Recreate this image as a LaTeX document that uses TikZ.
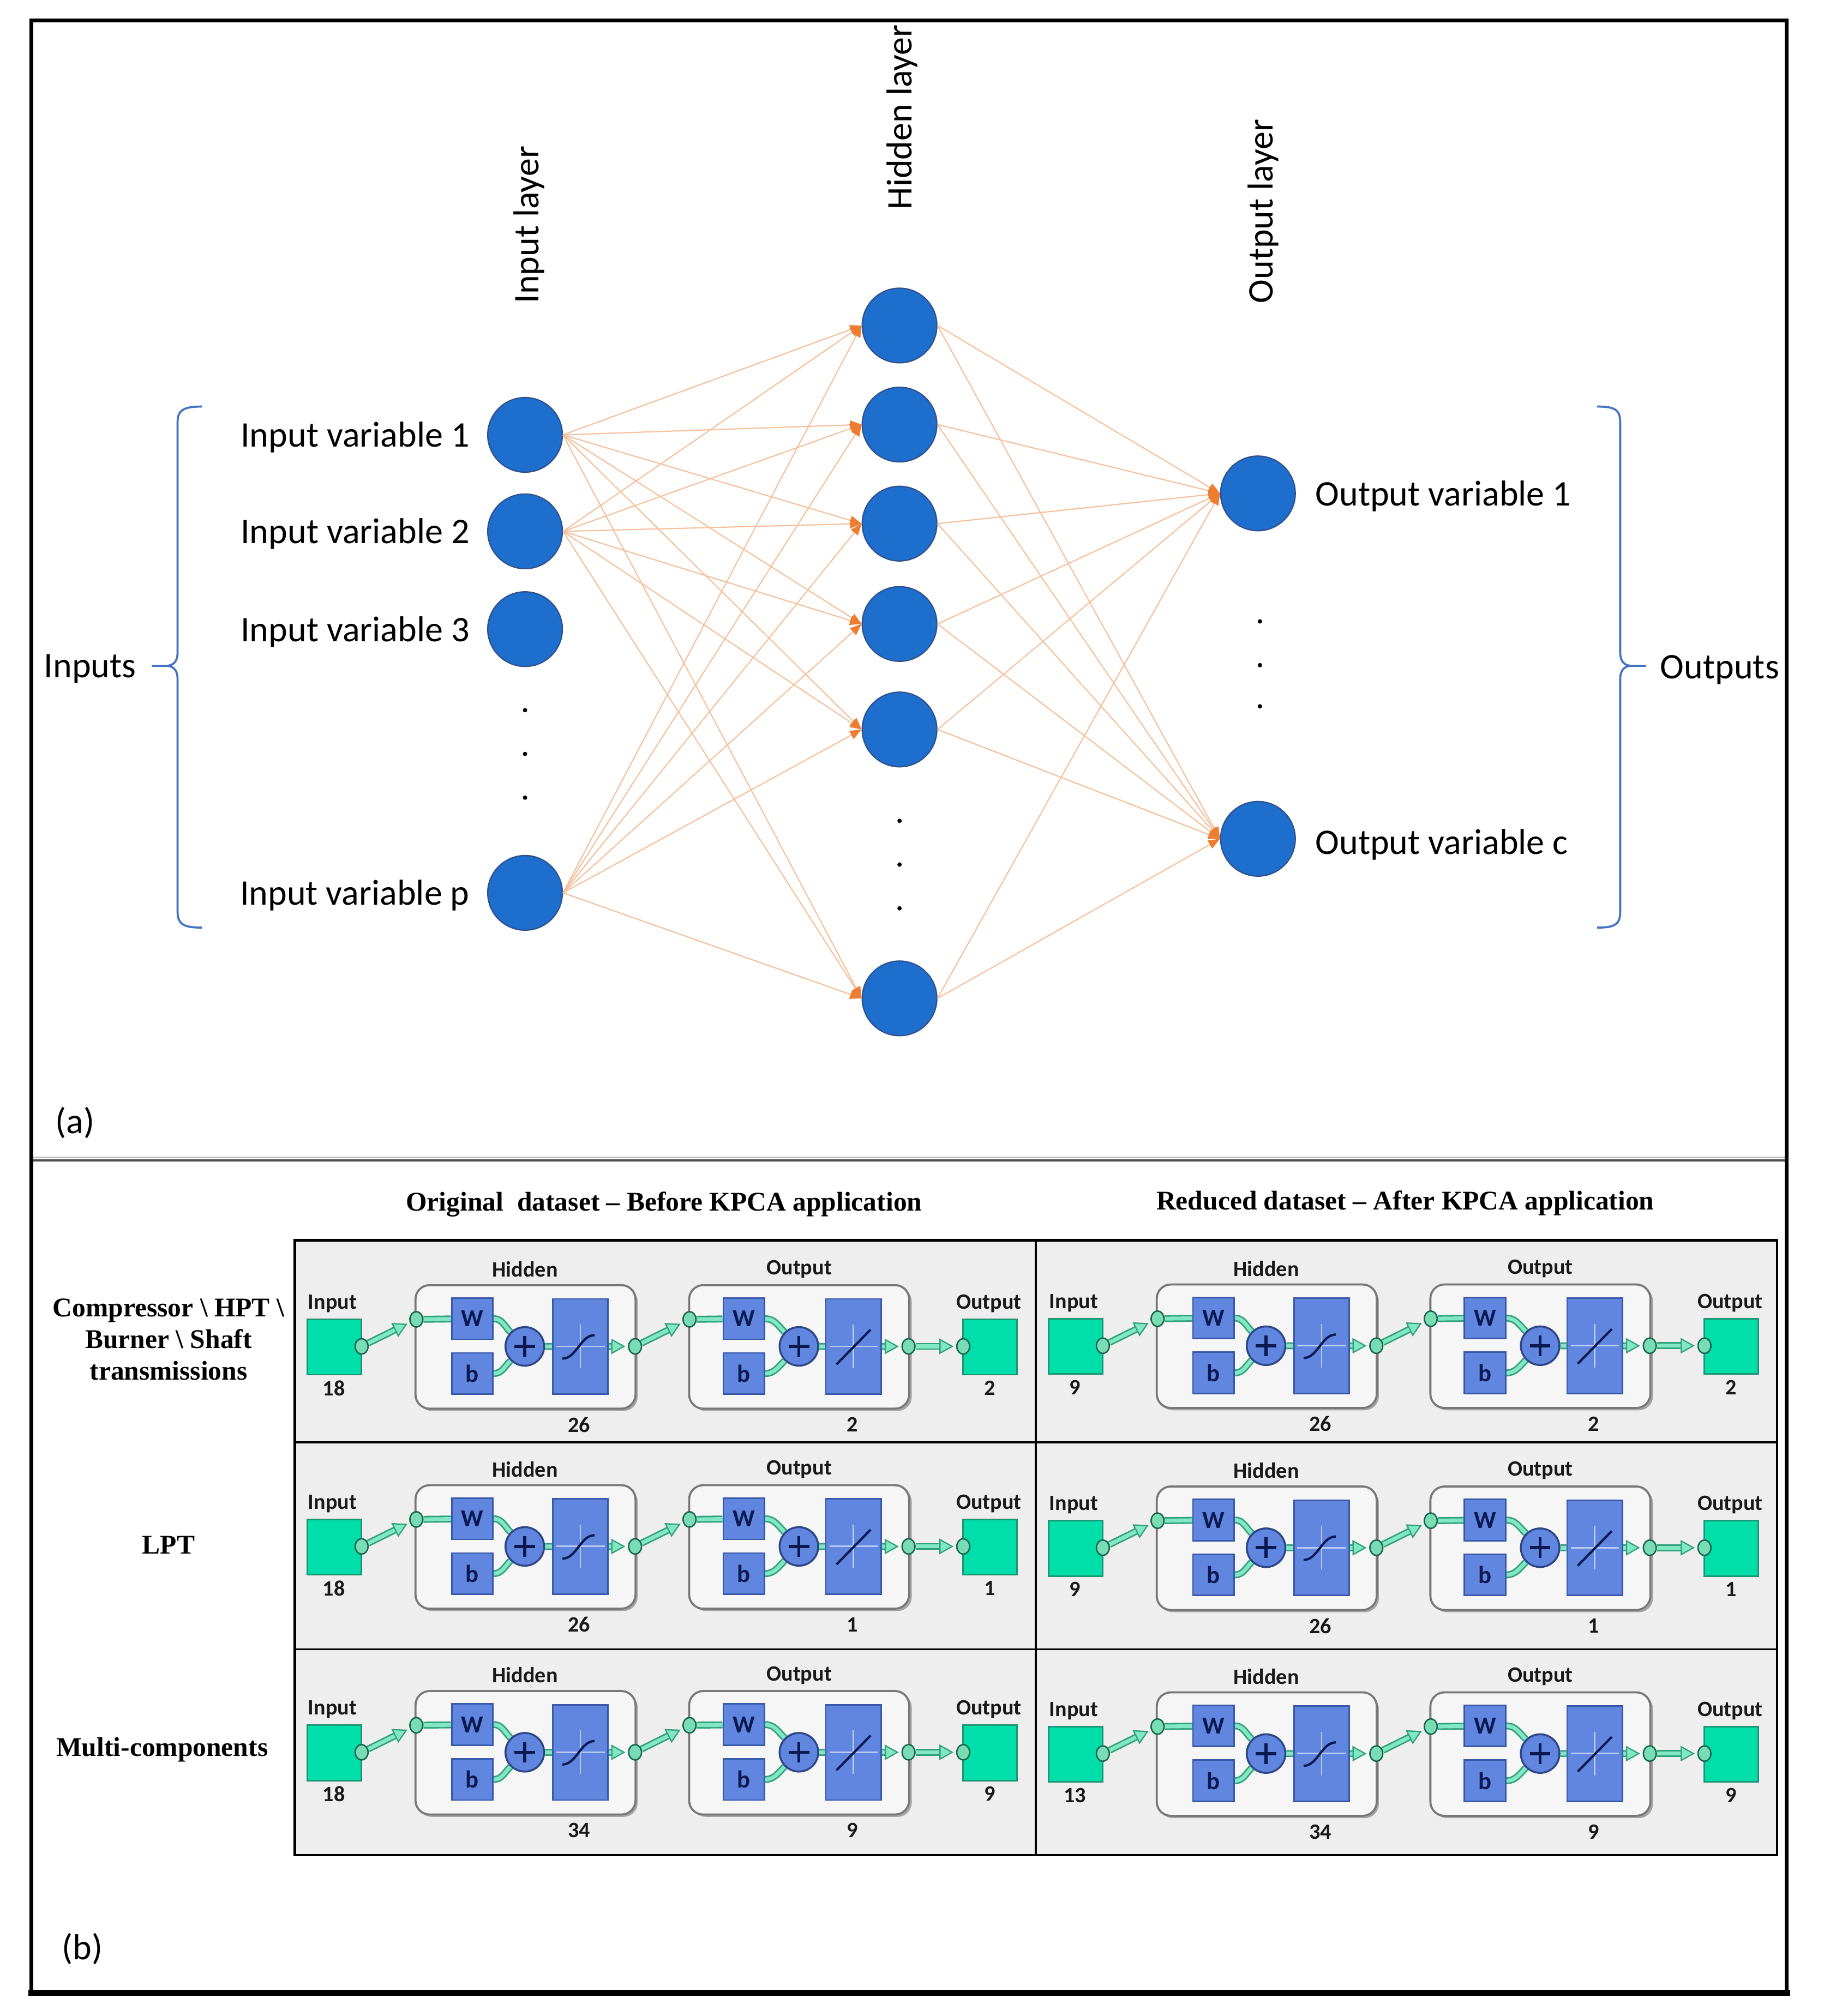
\documentclass[tikz,border=0pt]{standalone}
\usepackage{fontspec}
\setmainfont{Carlito}
\newfontfamily\serifhd{Liberation Serif}
\usetikzlibrary{arrows.meta,shapes.geometric}
\pgfdeclarelayer{back}
\pgfdeclarelayer{mid}
\pgfsetlayers{back,mid,main}
\definecolor{nblue}{RGB}{30,110,205}
\definecolor{nblueD}{RGB}{47,82,143}
\definecolor{peach}{RGB}{245,192,155}
\definecolor{orng}{RGB}{237,125,49}
\definecolor{brk}{RGB}{68,114,196}
\definecolor{cellbg}{RGB}{238,238,238}
\definecolor{laybg}{RGB}{246,246,246}
\definecolor{laybd}{RGB}{120,120,120}
\definecolor{mblue}{RGB}{96,134,224}
\definecolor{mblueD}{RGB}{58,88,168}
\definecolor{mgreen}{RGB}{0,222,170}
\definecolor{mgreenD}{RGB}{30,150,115}
\definecolor{wireD}{RGB}{50,160,125}
\definecolor{wireL}{RGB}{130,232,195}
\definecolor{portF}{RGB}{120,220,180}
\definecolor{portD}{RGB}{25,100,75}
\definecolor{navy}{RGB}{12,24,80}

\newcommand\mlwire[1]{\draw[wireo] #1; \draw[wirei] #1;}
\newcommand\mlwirea[1]{\draw[wireo,wtip] #1; \draw[wirei,shorten >=13pt] #1;}

\newcommand\mlcell[6]{%
\begin{scope}[shift={(#1,#2)}]
 \begin{pgfonlayer}{back}
  \node[laybox, draw=none, fill=black!35] at (181,2.2) {};
  \node[laybox] (#3Lh) at (179.35,0.4) {};
  \node[laybox, draw=none, fill=black!35] at (394,2.2) {};
  \node[laybox] (#3Lo) at (392,0.4) {};
 \end{pgfonlayer}
 \node[gbox] (#3in) at (30.8,0.5) {};
 \node[gbox] (#3out) at (540.2,0.5) {};
 \node[mllab] at (29.3,-33.3) {Input};
 \node[mllab] at (30.4,32.4) {#4};
 \node[mllab] at (179,-59.9) {Hidden};
 \node[mllab] at (221.1,60.8) {#5};
 \node[mllab] at (392,-59.9) {Output};
 \node[mllab] at (433.4,60.8) {#6};
 \node[mllab] at (539.4,-33.3) {Output};
 \node[mllab] at (540.2,32.4) {#6};
 \node[bbox] (#3hw) at (138,-21.5) {W};
 \node[bbox] (#3hb) at (138,21.1) {b};
 \node[sumn] (#3hs) at (178.8,0) {};
 \node[tbox] (#3ht) at (222,0.1) {};
 \node[bbox] (#3ow) at (349,-21.5) {W};
 \node[bbox] (#3ob) at (349,21.1) {b};
 \node[sumn] (#3os) at (391.8,0) {};
 \node[tbox] (#3ot) at (434.2,0.1) {};
 \draw[axl] (203,0) -- (241,0) (222,-17) -- (222,17);
 \draw[axl] (415.5,0) -- (453,0) (434.2,-17) -- (434.2,17);
 \draw[curv] (208,9.5) .. controls (219,9.5) and (222,-8.7) .. (233,-8.7);
 \draw[curv] (421,14) -- (447.5,-13);
 \node[port] (#3p1) at (52,0) {};
 \node[port] (#3p2) at (94.5,-21) {};
 \node[port] (#3p3) at (264.5,0) {};
 \node[port] (#3p4) at (306.8,-21) {};
 \node[port] (#3p5) at (477,0) {};
 \node[port] (#3p6) at (519.5,0) {};
 \begin{pgfonlayer}{mid}
  \mlwirea{(#3p1) -- (#3p2)}
  \mlwire{(#3p2) -- (#3hw)}
  \mlwire{(#3hw.east) to[out=0,in=135] (#3hs)}
  \mlwire{(#3hb.east) to[out=0,in=-135] (#3hs)}
  \mlwire{(#3hs) -- (#3ht)}
  \mlwirea{(#3ht) -- (#3p3)}
  \mlwirea{(#3p3) -- (#3p4)}
  \mlwire{(#3p4) -- (#3ow)}
  \mlwire{(#3ow.east) to[out=0,in=135] (#3os)}
  \mlwire{(#3ob.east) to[out=0,in=-135] (#3os)}
  \mlwire{(#3os) -- (#3ot)}
  \mlwirea{(#3ot) -- (#3p5)}
  \mlwirea{(#3p5) -- (#3p6)}
 \end{pgfonlayer}
\end{scope}}

\begin{document}
\begin{tikzpicture}[x=1pt,y=-1pt,
  neuron/.style={circle, minimum size=58pt, inner sep=0pt, fill=nblue, draw=nblueD, line width=1pt},
  edge/.style={draw=peach, line width=0.9pt, -{Triangle[length=9pt,width=7pt,color=orng]}},
  lab/.style={font=\fontsize{28}{34}\selectfont, inner sep=0pt},
  brace/.style={draw=brk, line width=1.6pt},
  hd/.style={font=\serifhd\bfseries\fontsize{21}{24.5}\selectfont, inner sep=0pt},
  mllab/.style={font=\fontsize{17}{19}\selectfont\bfseries, inner sep=0pt, text=black!90},
  gbox/.style={draw=mgreenD, fill=mgreen, line width=1.2pt, minimum width=42pt, minimum height=43pt, inner sep=0pt},
  laybox/.style={rounded corners=11pt, draw=laybd, fill=laybg, line width=1.6pt, minimum width=171pt, minimum height=96pt},
  bbox/.style={fill=mblue, draw=mblueD, line width=1.2pt, minimum width=32pt, minimum height=32pt, inner sep=0pt, font=\fontsize{19}{19}\selectfont\bfseries, text=navy},
  tbox/.style={fill=mblue, draw=mblueD, line width=1.2pt, minimum width=43pt, minimum height=74pt, inner sep=0pt},
  sumn/.style={circle, fill=mblue, draw=mblueD!80!black, line width=1.5pt, minimum size=30pt, inner sep=0pt,
    path picture={\draw[line width=2.4pt,navy] ([xshift=-8pt]path picture bounding box.center) -- ([xshift=8pt]path picture bounding box.center);
                  \draw[line width=2.4pt,navy] ([yshift=-8pt]path picture bounding box.center) -- ([yshift=8pt]path picture bounding box.center);}},
  port/.style={ellipse, fill=portF, draw=portD, line width=1.1pt, minimum width=10pt, minimum height=12pt, inner sep=0pt},
  wireo/.style={line width=5.4pt, draw=wireD},
  wirei/.style={line width=3pt, draw=wireL},
  wtip/.style={-{Triangle[length=11pt,width=12pt,line width=1pt,fill=wireL]}, shorten >=2pt},
  axl/.style={draw=white!55!mblue, line width=1.2pt},
  curv/.style={draw=navy, line width=1.8pt}]
\useasboundingbox (0,0) rectangle (1422,1567);
\begin{pgfonlayer}{back}
\fill[white] (0,0) rectangle (1422,1567);
\end{pgfonlayer}

% ---------------- part (a) ----------------
\node[neuron] (i1) at (408,338) {};
\node[neuron] (i2) at (408,413) {};
\node[neuron] (i3) at (408,489) {};
\node[neuron] (ip) at (408,694) {};
\node[neuron] (h1) at (699,253) {};
\node[neuron] (h2) at (699,330) {};
\node[neuron] (h3) at (699,407) {};
\node[neuron] (h4) at (699,485) {};
\node[neuron] (h5) at (699,567) {};
\node[neuron] (h6) at (699,776) {};
\node[neuron] (o1) at (977.5,383.5) {};
\node[neuron] (oc) at (977.5,652) {};

\foreach \s in {i1,i2,ip}{\foreach \t in {h1,h2,h3,h4,h5,h6}{\draw[edge] (\s.east) -- (\t.west);}}
\foreach \s in {h1,h2,h3,h4,h5,h6}{\foreach \t in {o1,oc}{\draw[edge] (\s.east) -- (\t.west);}}

\node[lab, anchor=base east] (li1) at (365,347.5) {Input variable 1};
\node[lab, anchor=base east] (li2) at (365,422.5) {Input variable 2};
\node[lab, anchor=base east] (li3) at (365,498.5) {Input variable 3};
\node[lab, anchor=base east] (lip) at (365,703.5) {Input variable p};
\node[lab, anchor=base west] (lo1) at (1022,393) {Output variable 1};
\node[lab, anchor=base west] (loc) at (1022,664) {Output variable c};
\node[lab, anchor=base west] (lin) at (34,526.5) {Inputs};
\node[lab, anchor=base west] (lout) at (1290,527.5) {Outputs};
\node[lab, rotate=90, anchor=west] (tin) at (411,236) {Input layer};
\node[lab, rotate=90, anchor=west] (thid) at (701,163) {Hidden layer};
\node[lab, rotate=90, anchor=west] (tout) at (981.5,236) {Output layer};
\node[lab, anchor=base west] (pa) at (43,881) {(a)};
\node[lab, anchor=base west] (pb) at (48,1523) {(b)};

\foreach \y in {552,586,620}{\fill (408,\y) circle (1.7);}
\foreach \y in {638,672,706}{\fill (699,\y) circle (1.7);}
\foreach \y in {483,517,549}{\fill (979,\y) circle (1.7);}

% braces
\draw[brace] (157,316) .. controls (144,316) and (138,318) .. (138,328) -- (138,507)
  .. controls (138,514) and (135,517) .. (130,517.5) -- (118,517.5);
\draw[brace] (130,517.5) .. controls (135,518) and (138,521) .. (138,528) -- (138,709)
  .. controls (138,719) and (144,721) .. (157,721);
\draw[brace] (1241,316) .. controls (1254,316) and (1259,318) .. (1259,328) -- (1259,507)
  .. controls (1259,514) and (1262,517) .. (1267,517.5) -- (1279,517.5);
\draw[brace] (1267,517.5) .. controls (1262,518) and (1259,521) .. (1259,528) -- (1259,709)
  .. controls (1259,719) and (1254,721) .. (1241,721);

% frame and divider
\draw[black!25, line width=1.4pt] (25,899.5) -- (1388,899.5);
\draw[black!70, line width=1.6pt] (25,902) -- (1388,902);
\draw[line width=3pt] (24.5,16) rectangle (1388.5,1549);
\draw[line width=5pt] (22,1549) -- (1391,1549);

% ---------------- part (b) ----------------
\node[hd] (h1t) at (516,936) {Original\ \ dataset – Before KPCA application};
\node[hd] (h2t) at (1092,935) {Reduced dataset – After KPCA application};
\node[hd, align=center] (r1) at (131,1041) {Compressor \textbackslash{} HPT \textbackslash\\Burner \textbackslash{} Shaft\\transmissions};
\node[hd] (r2) at (131,1201) {LPT};
\node[hd] (r3) at (126,1360) {Multi-components};

\begin{pgfonlayer}{back}
\fill[cellbg] (229,964) rectangle (1381,1442);
\end{pgfonlayer}

\mlcell{229}{1046.5}{a}{18}{26}{2}
\mlcell{229}{1202}{b}{18}{26}{1}
\mlcell{229}{1362}{c}{18}{34}{9}
\mlcell{805}{1046}{d}{9}{26}{2}
\mlcell{805}{1203}{e}{9}{26}{1}
\mlcell{805}{1363}{f}{13}{34}{9}

\draw[line width=1.5pt] (805,964) -- (805,1442);
\draw[line width=1.5pt] (229,1121) -- (1381,1121);
\draw[line width=1.5pt] (229,1282) -- (1381,1282);
\draw[line width=1.9pt] (229,964) rectangle (1381,1442);
\end{tikzpicture}
\end{document}
